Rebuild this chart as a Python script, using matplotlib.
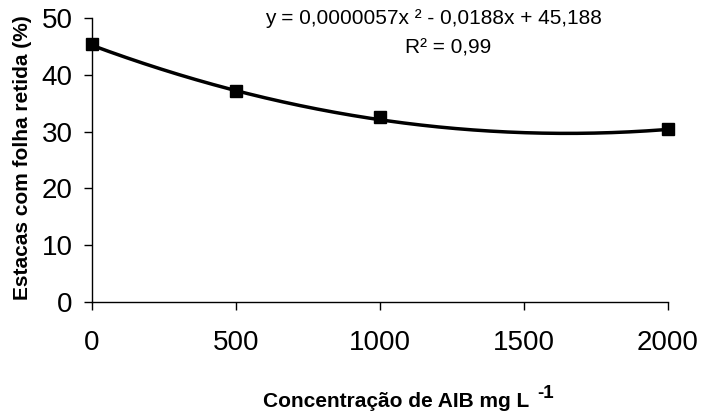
import numpy as np
import matplotlib
matplotlib.use("Agg")
import matplotlib.pyplot as plt

plt.rcParams['font.family'] = ['Liberation Sans', 'DejaVu Sans']

conc = [0, 500, 1000, 2000]
retained = [45.5, 37.1, 32.6, 30.4]
coef = [0.0000057, -0.0188, 45.188]  # quadratic fit shown on chart
xticks = [0, 500, 1000, 1500, 2000]
yticks = [0, 10, 20, 30, 40, 50]

fig = plt.figure(figsize=(7.04, 4.12), dpi=100)
ax = fig.add_axes([92/704, 1 - 302/412, (668-92)/704, (302-18)/412])

xs = np.linspace(0, 2000, 400)
ax.plot(xs, np.polyval(coef, xs), color='black', lw=2.5, zorder=2)
ax.plot(conc, retained, 's', color='black', markersize=9, zorder=3, clip_on=False)

ax.set_xlim(0, 2000)
ax.set_ylim(0, 50)
ax.set_xticks(xticks)
ax.set_yticks(yticks)
ax.spines['top'].set_visible(False)
ax.spines['right'].set_visible(False)
for s in ['left', 'bottom']:
    ax.spines[s].set_linewidth(1.0)
ax.tick_params(axis='both', direction='out', length=5.8, width=1.0, labelsize=20)
ax.tick_params(axis='x', pad=14)
ax.tick_params(axis='y', pad=8)

fig.text(23/704, 1 - 158/412, 'Estacas com folha retida (%)', rotation=90, ha='center', va='center',
         fontsize=15, fontweight='bold')
fig.text(263/704, 1 - 407/412, 'Concentração de AIB mg L', ha='left', va='baseline',
         fontsize=15, fontweight='bold')
fig.text(537/704, 1 - 398/412, '-1', ha='left', va='baseline', fontsize=13.5, fontweight='bold')

fig.text(433/704, 1 - 19/412, 'y = 0,0000057x ² - 0,0188x + 45,188', ha='center', va='center', fontsize=15)
fig.text(448/704, 1 - 48/412, 'R² = 0,99', ha='center', va='center', fontsize=15)

fig.savefig('out.png', dpi=100)
